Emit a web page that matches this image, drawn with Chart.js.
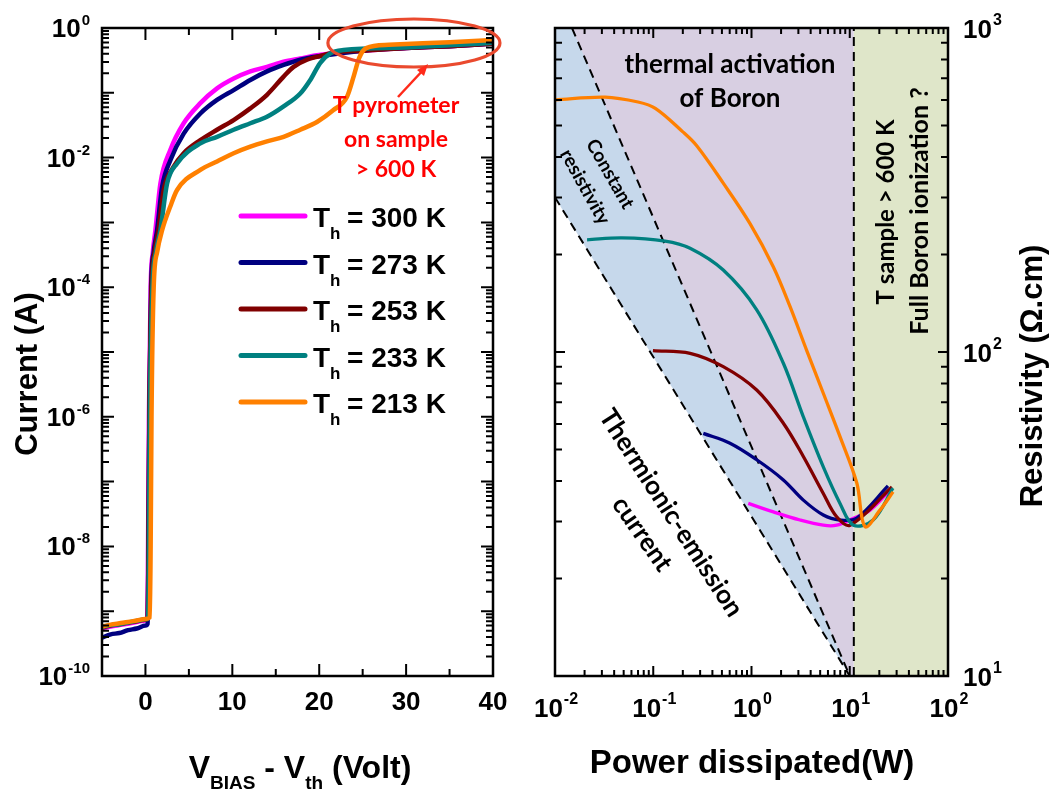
<!DOCTYPE html>
<html><head><meta charset="utf-8">
<script src="https://cdn.jsdelivr.net/npm/chart.js@4.4.1/dist/chart.umd.min.js"></script>
<style>
html,body{margin:0;padding:0;background:#fff;overflow:hidden}
#wrap{position:relative;width:1058px;height:792px;background:#fff}
canvas{position:absolute;top:0}
#c1{left:0}#c2{left:530px}
</style></head>
<body><div id="wrap"><canvas id="c1" width="530" height="792"></canvas><canvas id="c2" width="528" height="792"></canvas></div>
<script>
// ===== Left panel data: Current (A) vs VBIAS - Vth (Volt) =====
const tempLabels = ['300 K', '273 K', '253 K', '233 K', '213 K'];
const v300 = [-5,-4,-3,-2,-1,0,0.2,0.3,0.4,0.6,0.85,1.15,1.72,2.87,4.40,6.32,8.24,10.15,12.07,13.99,15.9,17.82,19.74,25,30,35,40];
const i300 = [5.4e-10,5.8e-10,6.1e-10,6.4e-10,6.8e-10,7.2e-10,7.5e-10,1e-8,1e-6,1e-4,3.5e-4,7.6e-4,3.98e-3,1.32e-2,3.39e-2,6.92e-2,0.117,0.166,0.214,0.251,0.302,0.339,0.380,0.447,0.49,0.525,0.575];
const v273 = [-5,-4,-3,-2,-1,0,0.25,0.35,0.45,0.65,0.95,1.34,1.92,2.87,4.40,6.32,8.24,10.15,12.07,13.99,15.9,17.82,19.74,25,30,35,40];
const i273 = [3.9e-10,4.4e-10,4.6e-10,5.1e-10,5.4e-10,6.0e-10,6.4e-10,1e-8,1e-6,1e-4,3.5e-4,7.6e-4,3.55e-3,9.12e-3,2.34e-2,4.79e-2,7.76e-2,0.110,0.158,0.214,0.269,0.324,0.363,0.447,0.49,0.525,0.575];
const v253 = [-5,-4,-3,-2,-1,0,0.25,0.35,0.45,0.7,1.05,1.5,2.10,3.25,4.40,6.32,8.24,10.15,12.07,13.99,15.9,17.05,18.59,20.5,21.6,25,30,35,40];
const i253 = [5.6e-10,6.0e-10,6.3e-10,6.6e-10,7.0e-10,7.4e-10,7.6e-10,1e-8,1e-6,1e-4,3.5e-4,7.6e-4,3.16e-3,7.24e-3,1.17e-2,1.86e-2,2.69e-2,3.8e-2,5.75e-2,9.33e-2,0.178,0.251,0.324,0.380,0.417,0.447,0.49,0.525,0.575];
const v233 = [-5,-4,-3,-2,-1,0,0.3,0.4,0.5,0.8,1.2,1.72,2.49,3.64,6.32,8.24,10.15,12.07,13.99,15.9,17.82,18.97,20.1,21.3,22.8,30,35,40];
const i233 = [5.7e-10,6.1e-10,6.3e-10,6.7e-10,7.1e-10,7.5e-10,7.7e-10,1e-8,1e-6,1e-4,3.5e-4,7.6e-4,3.98e-3,8.13e-3,1.66e-2,2.09e-2,2.69e-2,3.39e-2,4.27e-2,6.17e-2,9.77e-2,0.158,0.288,0.407,0.457,0.5,0.54,0.59];
const v213 = [-5,-4,-3,-2,-1,0,0.5,0.6,0.7,0.95,1.35,1.92,2.87,3.64,6.32,8.24,10.15,12.07,13.99,15.9,17.82,19.74,21.6,23.2,24.0,24.6,25.4,28,35,40];
const i213 = [5.8e-10,6.2e-10,6.5e-10,6.8e-10,7.2e-10,7.6e-10,8.0e-10,1e-8,1e-6,1e-4,3.5e-4,7.6e-4,1.78e-3,3.16e-3,6.46e-3,8.71e-3,1.17e-2,1.48e-2,1.78e-2,2.09e-2,2.69e-2,3.55e-2,5.37e-2,8.71e-2,0.186,0.347,0.49,0.55,0.603,0.653];

// ===== Right panel data: Resistivity (Ohm.cm) vs Power dissipated (W) =====
const p300 = [0.927,1.67,3.12,5.38,7.36,10.5,16.1,25.7];
const r300 = [34.1,32.1,30.3,29.2,29.2,30.5,32.5,37.5];
const p273 = [0.323,0.604,1.13,2.11,3.37,5.38,7.96,11.8,24.5];
const r273 = [56.1,52.3,46.5,40.3,34.9,31.4,30.3,30.7,38.6];
const p253 = [0.0993,0.237,0.516,1.13,2.11,3.37,5.38,7.36,10.07,26.9];
const r253 = [101,99.1,90.1,76.3,60.3,47.6,36.6,31.0,29.2,38.3];
const p233 = [0.0212,0.0481,0.132,0.237,0.516,1.13,2.11,3.37,5.38,7.96,10.9,17.3,27.5];
const r233 = [222,225,220,209,179,135,92.3,63.1,44.2,34.1,29.2,30.3,38];
const p213 = [0.01,0.0323,0.070,0.105,0.20,0.277,0.516,0.966,1.67,2.47,3.65,5.38,7.96,11.8,14.3,20.3,27.6];
const r213 = [600,612,591,565,478,433,332,249,183,138,101,74.6,54.8,39.4,28.9,32.5,37];
// region boundaries
const constRhoUpperP = [0.0149, 10];
const constRhoUpperR = [1000, 10];
const constRhoLowerP = [0.01, 10];
const constRhoLowerR = [300, 10];
const sampleLimitP = [11, 11];
const sampleLimitR = [10, 1000];

// ===== Tick labels =====
const ivXTicks = [0,10,20,30,40];
const ivXMinor = [5,15,25,35];
const ivYDecades = [-10,-9,-8,-7,-6,-5,-4,-3,-2,-1,0];
const ivYLabelDecades = [0,-2,-4,-6,-8,-10];
const pwXDecades = [-2,-1,0,1,2];
const rhoYDecades = [1,2,3];

// ===== Styles =====
const serieColors = ['#ff00ff','#000080','#800000','#008080','#ff8000'];
const FA = '"Liberation Sans", Arial, sans-serif';
const FC = 'Lato, "Open Sans", sans-serif';

function pts(xs, ys){ return xs.map((x,i)=>({x:x, y:ys[i]})); }

function vTick(ctx, px, ca, len){
  ctx.beginPath(); ctx.moveTo(px, ca.bottom); ctx.lineTo(px, ca.bottom-len);
  ctx.moveTo(px, ca.top); ctx.lineTo(px, ca.top+len); ctx.stroke();
}
function hTick(ctx, py, ca, len){
  ctx.beginPath(); ctx.moveTo(ca.left, py); ctx.lineTo(ca.left+len, py);
  ctx.moveTo(ca.right, py); ctx.lineTo(ca.right-len, py); ctx.stroke();
}
function drawSup(ctx, base, exp, x, y, align, bf, sf, raise){
  ctx.font=bf; const wb=ctx.measureText(base).width;
  ctx.font=sf; const we=ctx.measureText(exp).width;
  const gap=1, tot=wb+gap+we;
  const x0 = align==='right'? x-tot : align==='center'? x-tot/2 : x;
  ctx.textAlign='left'; ctx.textBaseline='alphabetic';
  ctx.font=bf; ctx.fillText(base,x0,y);
  ctx.font=sf; ctx.fillText(exp,x0+wb+gap,y-raise);
}
function drawRich(ctx, pieces, cx, y){
  let tot=0;
  pieces.forEach(p=>{ctx.font=p.f; p.w=ctx.measureText(p.t).width; tot+=p.w;});
  let x=cx-tot/2;
  ctx.textAlign='left'; ctx.textBaseline='alphabetic';
  pieces.forEach(p=>{ctx.font=p.f; ctx.fillText(p.t,x,y+(p.dy||0)); x+=p.w;});
}
function rotText(ctx, text, cx, cy, ang, font, color){
  ctx.save(); ctx.translate(cx,cy); ctx.rotate(ang*Math.PI/180);
  ctx.font=font; ctx.fillStyle=color; ctx.textAlign='center'; ctx.textBaseline='middle';
  ctx.fillText(text,0,0); ctx.restore();
}

// ===== Left chart decorations =====
const leftDecor = {
  id:'leftDecor',
  afterDatasetsDraw(chart){
    const ctx=chart.ctx, ca=chart.chartArea, xs=chart.scales.x, ys=chart.scales.y;
    ctx.save();
    ctx.strokeStyle='#000'; ctx.fillStyle='#000';
    ctx.lineWidth=2;
    ivXTicks.forEach(v=>vTick(ctx, xs.getPixelForValue(v), ca, 12));
    ivXMinor.forEach(v=>vTick(ctx, xs.getPixelForValue(v), ca, 7));
    ivYDecades.forEach(d=>{
      hTick(ctx, ys.getPixelForValue(Math.pow(10,d)), ca, 12);
      if(d<0) for(let m=2;m<=9;m++) hTick(ctx, ys.getPixelForValue(m*Math.pow(10,d)), ca, 7);
    });
    ctx.lineWidth=2.5;
    ctx.strokeRect(ca.left, ca.top, ca.right-ca.left, ca.bottom-ca.top);
    // tick labels
    ctx.textAlign='center'; ctx.textBaseline='alphabetic';
    ctx.font='bold 26px '+FA;
    ivXTicks.forEach(v=>ctx.fillText(String(v), xs.getPixelForValue(v), 710));
    ivYLabelDecades.forEach(d=>{
      const py=ys.getPixelForValue(Math.pow(10,d));
      drawSup(ctx,'10',String(d),90,py+9,'right','bold 26px '+FA,'bold 15px '+FA,12);
    });
    // axis titles
    rotText(ctx,'Current (A)',28,374,-90,'bold 31px '+FA,'#000');
    drawRich(ctx,[
      {t:'V',f:'bold 32px '+FA},{t:'BIAS',f:'bold 19px '+FA,dy:11},
      {t:' - V',f:'bold 32px '+FA},{t:'th',f:'bold 19px '+FA,dy:11},
      {t:' (Volt)',f:'bold 32px '+FA}],300,778);
    // legend
    tempLabels.forEach((lab,i)=>{
      const y=216+i*46.5;
      ctx.strokeStyle=serieColors[i]; ctx.lineWidth=5; ctx.lineCap='round';
      ctx.beginPath(); ctx.moveTo(241,y); ctx.lineTo(305,y); ctx.stroke();
      ctx.fillStyle='#000'; ctx.textAlign='left';
      ctx.font='bold 28px '+FA; ctx.fillText('T',313,y+11);
      ctx.font='bold 17px '+FA; ctx.fillText('h',330,y+23);
      ctx.font='bold 28px '+FA; ctx.fillText('= '+lab,347,y+11);
    });
    // red annotation
    ctx.strokeStyle='#ea4a2e'; ctx.lineWidth=3.2; ctx.lineCap='butt';
    const ex1=xs.getPixelForValue(21.0), ex2=xs.getPixelForValue(40.8);
    ctx.beginPath(); ctx.ellipse((ex1+ex2)/2,43,(ex2-ex1)/2,24,0,0,Math.PI*2); ctx.stroke();
    ctx.strokeStyle='#ff2a1a'; ctx.lineWidth=2.5;
    ctx.beginPath(); ctx.moveTo(398,97); ctx.lineTo(425,68); ctx.stroke();
    ctx.fillStyle='#ff2a1a';
    ctx.beginPath(); ctx.moveTo(428,64); ctx.lineTo(417,70); ctx.lineTo(424,76); ctx.closePath(); ctx.fill();
    ctx.fillStyle='#ff0000'; ctx.textAlign='center';
    ctx.font='bold 23px '+FC;
    ctx.fillText('T pyrometer',396,113);
    ctx.fillText('on sample',396,147);
    ctx.fillText('> 600 K',396,177);
    ctx.restore();
  }
};

// ===== Right chart decorations =====
const rightDecor = {
  id:'rightDecor',
  afterDatasetsDraw(chart){
    const ctx=chart.ctx, ca=chart.chartArea, xs=chart.scales.x, ys=chart.scales.y;
    ctx.save();
    ctx.strokeStyle='#000'; ctx.fillStyle='#000'; ctx.lineWidth=2;
    pwXDecades.forEach(d=>{
      vTick(ctx, xs.getPixelForValue(Math.pow(10,d)), ca, 10);
      if(d<2) for(let m=2;m<=9;m++) vTick(ctx, xs.getPixelForValue(m*Math.pow(10,d)), ca, 6);
    });
    rhoYDecades.forEach(d=>{
      hTick(ctx, ys.getPixelForValue(Math.pow(10,d)), ca, 10);
      if(d<3) for(let m=2;m<=9;m++) hTick(ctx, ys.getPixelForValue(m*Math.pow(10,d)), ca, 7);
    });
    ctx.lineWidth=2.5;
    ctx.strokeRect(ca.left, ca.top, ca.right-ca.left, ca.bottom-ca.top);
    pwXDecades.forEach(d=>{
      drawSup(ctx,'10',String(d),xs.getPixelForValue(Math.pow(10,d))+1,717,'center','bold 26px '+FA,'bold 16px '+FA,13);
    });
    rhoYDecades.forEach(d=>{
      const py=ys.getPixelForValue(Math.pow(10,d));
      drawSup(ctx,'10',String(d),ca.right+15,py+10,'left','bold 26px '+FA,'bold 16px '+FA,13);
    });
    ctx.textAlign='center';
    ctx.font='bold 33px '+FA;
    ctx.fillText('Power dissipated(W)',752-530,773);
    rotText(ctx,'Resistivity (\u03A9.cm)',1033-530,376,-90,'bold 31px '+FA,'#000');
    // region annotations
    ctx.fillStyle='#000'; ctx.textAlign='center'; ctx.textBaseline='alphabetic';
    ctx.font='bold 26px '+FC;
    ctx.fillText('thermal activation',730-530,73);
    ctx.fillText('of Boron',730-530,107);
    rotText(ctx,'Constant',610-530,174,60,'bold 19px '+FC,'#000');
    rotText(ctx,'resistivity',585-530,187,61,'bold 19px '+FC,'#000');
    rotText(ctx,'Thermionic-emission',671-530,513,57,'bold 26px '+FC,'#000');
    rotText(ctx,'current',642-530,534,55,'bold 26px '+FC,'#000');
    rotText(ctx,'T sample > 600 K',886-530,212,-90,'bold 24px '+FC,'#000');
    rotText(ctx,'Full Boron ionization ?',920-530,211,-90,'bold 25px '+FC,'#000');
    ctx.restore();
  }
};

const common = {
  responsive:false, animation:false, events:[],
  plugins:{legend:{display:false}, tooltip:{enabled:false}},
  elements:{point:{radius:0}}
};

// ===== Left chart =====
const ivSeries = [[v300,i300],[v273,i273],[v253,i253],[v233,i233],[v213,i213]];
new Chart(document.getElementById('c1'), {
  type:'line',
  data:{datasets: ivSeries.map((s,i)=>({
    label:'Th = '+tempLabels[i], data:pts(s[0],s[1]),
    borderColor:serieColors[i], borderWidth:4.5, fill:false,
    cubicInterpolationMode:'monotone', order:5-i
  }))},
  options:Object.assign({}, common, {
    layout:{padding:{left:102,right:37,top:28,bottom:116}},
    scales:{
      x:{type:'linear',min:-5,max:40,display:false},
      y:{type:'logarithmic',min:1e-10,max:1,display:false}
    }
  }),
  plugins:[leftDecor]
});

// ===== Right chart =====
const rhoSeries = [[p300,r300],[p273,r273],[p253,r253],[p233,r233],[p213,r213]];
const areaDs = (data,color,order)=>({data, borderColor:'transparent', borderWidth:0, backgroundColor:color, fill:'start', tension:0, order});
const dashDs = (data)=>({data, borderColor:'#000', borderWidth:2, borderDash:[9,6], fill:false, tension:0, order:8});
new Chart(document.getElementById('c2'), {
  type:'line',
  data:{datasets:[
    areaDs([{x:0.01,y:1000},{x:sampleLimitP[0],y:1000}],'#d8cfe2',30),
    areaDs([{x:sampleLimitP[0],y:1000},{x:100,y:1000}],'#dfe6c9',30),
    areaDs([{x:0.01,y:1000}].concat(pts(constRhoUpperP,constRhoUpperR)),'#c6d8eb',29),
    areaDs(pts(constRhoLowerP,constRhoLowerR),'#ffffff',28),
    dashDs(pts(constRhoUpperP,constRhoUpperR)),
    dashDs(pts(constRhoLowerP,constRhoLowerR)),
    dashDs(pts(sampleLimitP,sampleLimitR))
  ].concat(rhoSeries.map((s,i)=>({
    label:'Th = '+tempLabels[i], data:pts(s[0],s[1]),
    borderColor:serieColors[i], borderWidth:3.3, fill:false,
    tension:0.35, order:5-i
  })))},
  options:Object.assign({}, common, {
    layout:{padding:{left:25,right:110,top:28,bottom:116}},
    scales:{
      x:{type:'logarithmic',min:0.01,max:100,display:false},
      y:{type:'logarithmic',min:10,max:1000,display:false}
    }
  }),
  plugins:[rightDecor]
});
</script>
</body></html>
